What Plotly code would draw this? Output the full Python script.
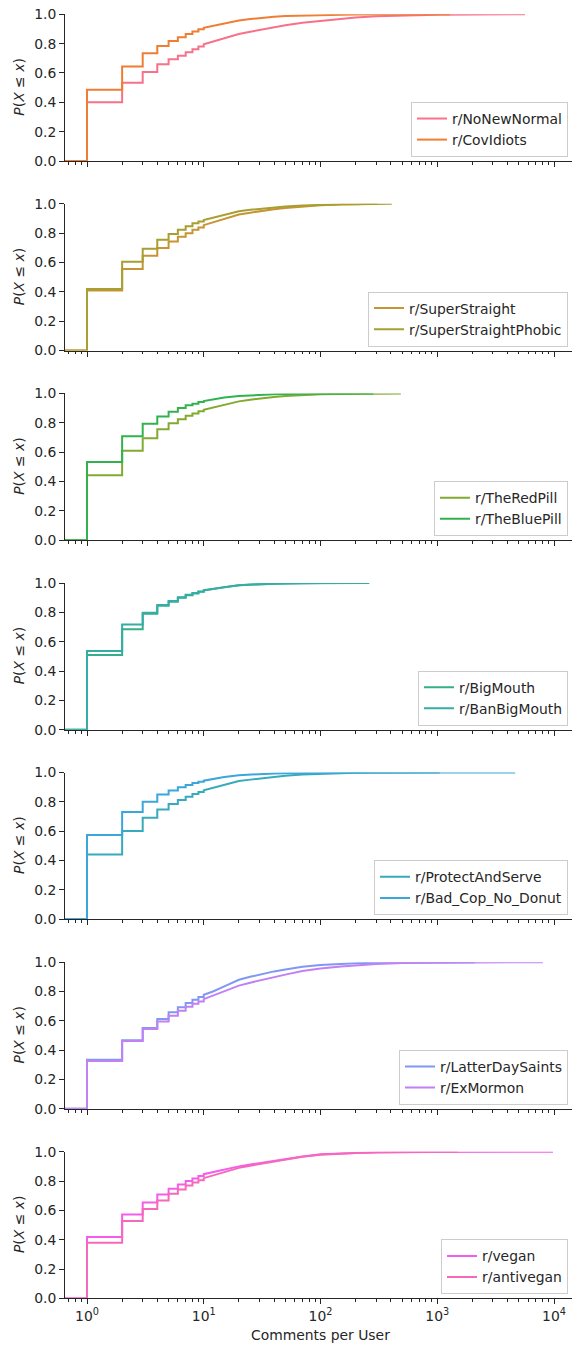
import math
import numpy as np
import plotly.graph_objects as go

# ---------------- data ----------------
X_GRID = [1, 2, 3, 4, 5, 6, 7, 8, 9, 10, 12, 15, 20, 25, 30, 40, 50, 70, 100, 150, 200, 300, 500, 1000, 2000, 5000]

subreddits = ["r/NoNewNormal", "r/CovIdiots",
              "r/SuperStraight", "r/SuperStraightPhobic",
              "r/TheRedPill", "r/TheBluePill",
              "r/BigMouth", "r/BanBigMouth",
              "r/ProtectAndServe", "r/Bad_Cop_No_Donut",
              "r/LatterDaySaints", "r/ExMormon",
              "r/vegan", "r/antivegan"]

ecdf_NoNewNormal = [0.40, 0.534, 0.607, 0.659, 0.693, 0.718, 0.741, 0.761, 0.78, 0.795, 0.814, 0.839, 0.866, 0.881, 0.893, 0.911, 0.925, 0.943, 0.956, 0.97, 0.978, 0.986, 0.992, 0.997, 0.999, 0.9998]
ecdf_CovIdiots = [0.486, 0.645, 0.734, 0.784, 0.818, 0.843, 0.866, 0.882, 0.898, 0.908, 0.922, 0.94, 0.958, 0.968, 0.975, 0.983, 0.988, 0.992, 0.995, 0.997, 0.998, 0.999, 0.9995, 0.9998]
ecdf_SuperStraight = [0.41, 0.556, 0.646, 0.70, 0.744, 0.776, 0.80, 0.823, 0.839, 0.855, 0.875, 0.90, 0.927, 0.94, 0.95, 0.963, 0.972, 0.983, 0.99, 0.995, 0.997, 0.999]
ecdf_SuperStraightPhobic = [0.42, 0.605, 0.694, 0.755, 0.794, 0.823, 0.848, 0.868, 0.88, 0.89, 0.905, 0.925, 0.95, 0.96, 0.966, 0.976, 0.982, 0.989, 0.994, 0.997, 0.998, 0.999]
ecdf_TheRedPill = [0.443, 0.609, 0.695, 0.756, 0.796, 0.824, 0.848, 0.864, 0.878, 0.889, 0.905, 0.925, 0.946, 0.957, 0.966, 0.976, 0.982, 0.989, 0.994, 0.997, 0.998, 0.9993]
ecdf_TheBluePill = [0.532, 0.708, 0.794, 0.842, 0.876, 0.90, 0.919, 0.93, 0.941, 0.948, 0.96, 0.972, 0.982, 0.987, 0.991, 0.994, 0.996, 0.998, 0.999, 0.9995, 0.9998]
ecdf_BigMouth = [0.509, 0.684, 0.79, 0.845, 0.873, 0.90, 0.917, 0.929, 0.94, 0.949, 0.96, 0.972, 0.984, 0.989, 0.992, 0.995, 0.997, 0.9985, 0.9995]
ecdf_BanBigMouth = [0.536, 0.718, 0.798, 0.85, 0.877, 0.903, 0.92, 0.932, 0.942, 0.951, 0.961, 0.973, 0.985, 0.99, 0.993, 0.996, 0.997, 0.998, 0.999, 0.9995, 0.9998]
ecdf_ProtectAndServe = [0.442, 0.601, 0.692, 0.749, 0.786, 0.813, 0.836, 0.854, 0.868, 0.879, 0.897, 0.918, 0.943, 0.952, 0.959, 0.971, 0.978, 0.987, 0.993, 0.996, 0.998, 0.999, 0.9995, 0.9999]
ecdf_Bad_Cop_No_Donut = [0.574, 0.731, 0.802, 0.85, 0.877, 0.90, 0.916, 0.929, 0.938, 0.945, 0.957, 0.97, 0.982, 0.987, 0.991, 0.994, 0.996, 0.998, 0.999, 0.9993, 0.9995, 0.9997, 0.9998, 0.9999, 0.99995]
ecdf_LatterDaySaints = [0.335, 0.467, 0.551, 0.612, 0.658, 0.692, 0.721, 0.744, 0.762, 0.778, 0.80, 0.835, 0.88, 0.90, 0.915, 0.937, 0.95, 0.968, 0.98, 0.989, 0.993, 0.996, 0.998, 0.9993, 0.9998]
ecdf_ExMormon = [0.327, 0.462, 0.544, 0.596, 0.635, 0.669, 0.696, 0.717, 0.732, 0.748, 0.772, 0.80, 0.84, 0.86, 0.875, 0.90, 0.915, 0.94, 0.957, 0.971, 0.979, 0.988, 0.994, 0.997, 0.999, 0.9998]
ecdf_vegan = [0.419, 0.572, 0.654, 0.708, 0.747, 0.777, 0.80, 0.818, 0.834, 0.847, 0.862, 0.878, 0.90, 0.913, 0.923, 0.94, 0.952, 0.968, 0.982, 0.989, 0.993, 0.996, 0.998, 0.999, 0.9997, 0.9999]
ecdf_antivegan = [0.38, 0.528, 0.61, 0.667, 0.713, 0.743, 0.77, 0.79, 0.806, 0.82, 0.838, 0.862, 0.89, 0.905, 0.916, 0.934, 0.947, 0.965, 0.98, 0.988, 0.992, 0.995, 0.997, 0.999]

max_comments = [5650, 1290, 310, 408, 488, 283, 105, 262, 1050, 4650, 2100, 8030, 9800, 1500]

ecdf_values = [ecdf_NoNewNormal, ecdf_CovIdiots, ecdf_SuperStraight, ecdf_SuperStraightPhobic,
               ecdf_TheRedPill, ecdf_TheBluePill, ecdf_BigMouth, ecdf_BanBigMouth,
               ecdf_ProtectAndServe, ecdf_Bad_Cop_No_Donut, ecdf_LatterDaySaints, ecdf_ExMormon,
               ecdf_vegan, ecdf_antivegan]

y_tick_vals = [0.0, 0.2, 0.4, 0.6, 0.8, 1.0]
x_tick_vals = [1, 10, 100, 1000, 10000]
x_tick_text = ["10<sup>0</sup>", "10<sup>1</sup>", "10<sup>2</sup>", "10<sup>3</sup>", "10<sup>4</sup>"]
x_minor_vals = [m * 10 ** e for e in range(-1, 5) for m in range(2, 10)]

# ---------------- husl palette (seaborn "husl", 14 colours) ----------------
_M = [[3.2406, -1.5372, -0.4986], [-0.9689, 1.8758, 0.0415], [0.0557, -0.2040, 1.0570]]
_refU, _refV = 0.19784, 0.46834
_lab_e, _lab_k = 0.008856, 903.3


def _max_chroma(L, H):
    hrad = math.radians(H)
    sinH, cosH = math.sin(hrad), math.cos(hrad)
    sub1 = (L + 16) ** 3 / 1560896.0
    sub2 = sub1 if sub1 > _lab_e else L / _lab_k
    result = float("inf")
    for m1, m2, m3 in _M:
        top = (0.99915 * m1 + 1.05122 * m2 + 1.14460 * m3) * sub2
        rbottom = 0.86330 * m3 - 0.17266 * m2
        lbottom = 0.12949 * m3 - 0.38848 * m1
        bottom = (rbottom * sinH + lbottom * cosH) * sub2
        for t in (0.0, 1.0):
            C = L * (top - 1.05122 * t) / (bottom + 0.17266 * sinH * t)
            if 0.0 < C < result:
                result = C
    return result


def _f_inv(t):
    return t ** 3 if t ** 3 > _lab_e else (116.0 * t - 16.0) / _lab_k


def _from_linear(c):
    return 12.92 * c if c <= 0.0031308 else 1.055 * c ** (1 / 2.4) - 0.055


def husl_to_hex(H, S, L):
    C = _max_chroma(L, H) / 100.0 * S
    hr = math.radians(H)
    U, V = math.cos(hr) * C, math.sin(hr) * C
    varY = _f_inv((L + 16.0) / 116.0)
    varU = U / (13.0 * L) + _refU
    varV = V / (13.0 * L) + _refV
    Y = varY
    X = 0.0 - (9.0 * Y * varU) / ((varU - 4.0) * varV - varU * varV)
    Z = (9.0 * Y - 15.0 * varV * Y - varV * X) / (3.0 * varV)
    rgb = [_from_linear(r[0] * X + r[1] * Y + r[2] * Z) for r in _M]
    rgb = [min(max(c, 0.0), 1.0) for c in rgb]
    return "#%02x%02x%02x" % tuple(int(round(c * 255)) for c in rgb)


hues = (np.linspace(0, 1, 15)[:-1] + 0.01) % 1 * 359
colors = [husl_to_hex(h, 0.9 * 99, 0.65 * 99) for h in hues]

# ---------------- layout geometry ----------------
W, H = 572, 1346
PLOT_L, PLOT_R = 65, 572
TOP0, PERIOD, PH = 14.3, 189.57, 146.7
INK = "#262626"
FONT = "DejaVu Sans"
FS = 13.9


def ecdf_path(xs, fs, xmax):
    px, py = [0.5], [0.0]
    prev = 0.0
    for x, f in zip(xs, fs):
        if x <= 10:
            px += [x, x]
            py += [prev, f]
        else:
            px.append(x)
            py.append(f)
        prev = f
    px += [xmax, xmax]
    py += [prev, 1.0]
    return px, py


fig = go.Figure()
n_panels = 7
for k in range(n_panels):
    for j in range(2):
        i = 2 * k + j
        vals = ecdf_values[i]
        px, py = ecdf_path(X_GRID[:len(vals)], vals, max_comments[i])
        fig.add_trace(go.Scatter(
            x=px, y=py, mode="lines", name=subreddits[i],
            line=dict(color=colors[i], width=2),
            xaxis="x" if k == 0 else f"x{k + 1}",
            yaxis="y" if k == 0 else f"y{k + 1}",
            legend="legend" if k == 0 else f"legend{k + 1}",
        ))

layout = dict(width=W, height=H, margin=dict(l=0, r=0, t=0, b=0, pad=0, autoexpand=False),
              paper_bgcolor="white", plot_bgcolor="white",
              font=dict(family=FONT, size=FS, color=INK), annotations=[])

for k in range(n_panels):
    top = TOP0 + PERIOD * k
    bot = top + PH
    sfx = "" if k == 0 else str(k + 1)
    last = k == n_panels - 1
    layout[f"xaxis{sfx}"] = dict(
        type="log", range=[math.log10(0.648), math.log10(14260)], automargin=False,
        domain=[PLOT_L / W, PLOT_R / W], anchor=f"y{sfx}",
        showline=True, linecolor=INK, linewidth=1.1, showgrid=False, zeroline=False,
        ticks="outside", ticklen=4.9, tickwidth=1.1, tickcolor=INK,
        tickvals=x_tick_vals, ticktext=x_tick_text, showticklabels=last,
        tickfont=dict(family=FONT, size=FS, color=INK),
        minor=dict(ticks="outside", ticklen=2.8, tickwidth=0.8, tickcolor=INK,
                   tickvals=x_minor_vals, showgrid=False),
    )
    layout[f"yaxis{sfx}"] = dict(
        range=[0, 1], domain=[1 - bot / H, 1 - top / H], anchor=f"x{sfx}", automargin=False,
        showline=True, linecolor=INK, linewidth=1.1, showgrid=False, zeroline=False,
        ticks="outside", ticklen=4.9, tickwidth=1.1, tickcolor=INK,
        tickvals=y_tick_vals, tickformat=".1f",
        tickfont=dict(family=FONT, size=FS, color=INK),
    )
    layout["legend" if k == 0 else f"legend{k + 1}"] = dict(
        x=568 / W, y=1 - (bot - 4) / H, xanchor="right", yanchor="bottom",
        bgcolor="rgba(255,255,255,0.8)", bordercolor="#cccccc", borderwidth=1,
        font=dict(family=FONT, size=FS, color=INK), tracegroupgap=0,
    )
    layout["annotations"].append(dict(
        text="<i>P</i>(<i>X</i> ≤ <i>x</i>)", x=19 / W, y=1 - (top + PH / 2) / H,
        xref="paper", yref="paper", textangle=-90, showarrow=False,
        xanchor="center", yanchor="middle", font=dict(family=FONT, size=FS, color=INK)))

layout["annotations"].append(dict(
    text="Comments per User", x=320 / W, y=1 - 1335 / H, xref="paper", yref="paper",
    showarrow=False, xanchor="center", yanchor="middle",
    font=dict(family=FONT, size=FS, color=INK)))

fig.update_layout(**layout)
fig.write_html("out.html", config={"displayModeBar": False},
               post_script="document.body.style.margin='0';document.body.style.padding='0';")
